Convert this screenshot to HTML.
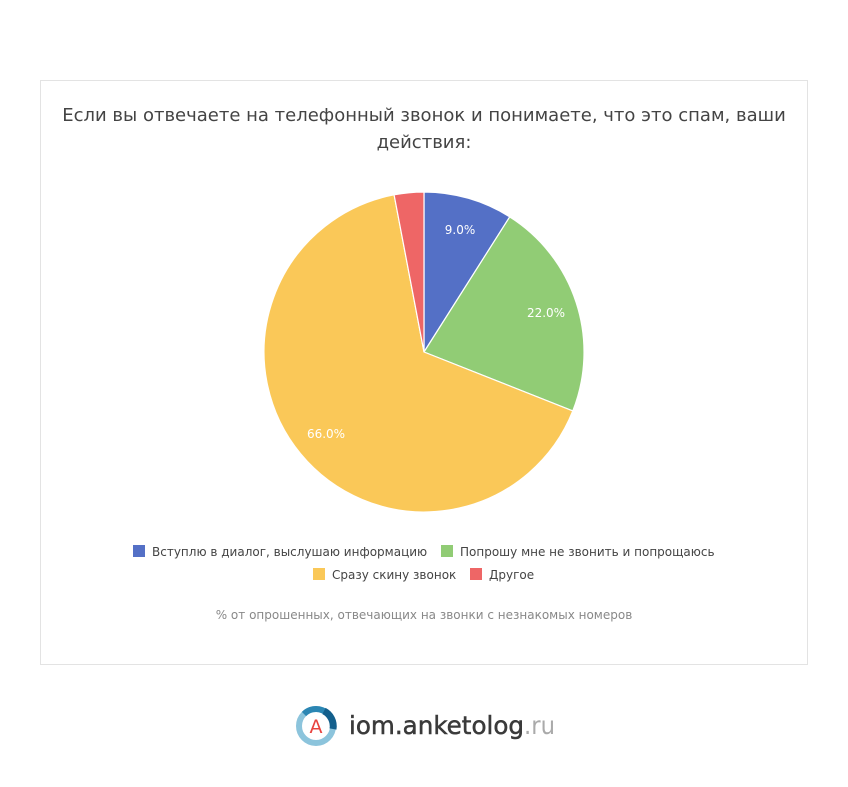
<!DOCTYPE html>
<html><head><meta charset="utf-8"><style>
body{margin:0;width:848px;height:787px;background:#fff;font-family:"DejaVu Sans","Liberation Sans",sans-serif;position:relative;overflow:hidden}
.card{position:absolute;left:40px;top:80px;width:766px;height:583px;border:1px solid #e3e3e3;background:#fff}
.title{position:absolute;left:40px;top:102px;width:768px;text-align:center;font-size:18px;line-height:27px;color:#444}
.leg{position:absolute;font-size:12px;color:#444;white-space:nowrap}
.sw{display:inline-block;width:12px;height:12px;vertical-align:-1px;margin-right:7px}
.note{position:absolute;left:40px;top:608px;width:768px;text-align:center;font-size:12px;color:#888}
</style></head><body>
<div class="card"></div>
<div class="title">Если вы отвечаете на телефонный звонок и понимаете, что это спам, ваши<br>действия:</div>
<svg width="848" height="787" style="position:absolute;left:0;top:0">
<g stroke="#fff" stroke-width="1.2">
<path d="M424,352 L424,192 A160,160 0 0 1 509.7,216.9 Z" fill="#5470c6"/>
<path d="M424,352 L509.7,216.9 A160,160 0 0 1 572.8,410.9 Z" fill="#91cc75"/>
<path d="M424,352 L572.8,410.9 A160,160 0 1 1 394.1,194.8 Z" fill="#fac858"/>
<path d="M424,352 L394.1,194.8 A160,160 0 0 1 424,192 Z" fill="#ee6666"/>
</g>
<g fill="#fff" font-size="12" text-anchor="middle" font-family="DejaVu Sans,sans-serif">
<text x="460" y="234">9.0%</text>
<text x="546" y="317">22.0%</text>
<text x="326" y="438">66.0%</text>
</g>
<g transform="translate(316,726)">
<circle r="17" fill="none" stroke="#8cc4dc" stroke-width="6"/>
<path d="M-12,-12 A17,17 0 0 1 17,0" fill="none" stroke="#2b86b3" stroke-width="6"/>
<path d="M8,-15 A17,17 0 0 1 17,3" fill="none" stroke="#135f8c" stroke-width="7"/>
<circle r="13" fill="#fff"/>
<text x="0" y="7" text-anchor="middle" font-size="19" fill="#e8423e" font-family="DejaVu Sans,sans-serif">A</text>
</g>
<text x="349" y="734" font-size="25" fill="#3a3a3a" stroke="#3a3a3a" stroke-width="0.5" font-family="DejaVu Sans,sans-serif" textLength="175" lengthAdjust="spacingAndGlyphs">iom.anketolog</text>
<text x="524" y="734" font-size="25" fill="#aaa" font-family="DejaVu Sans,sans-serif" textLength="31" lengthAdjust="spacingAndGlyphs">.ru</text>
</svg>
<div class="leg" style="left:133px;top:545px"><span class="sw" style="background:#5470c6"></span>Вступлю в диалог, выслушаю информацию</div>
<div class="leg" style="left:441px;top:545px"><span class="sw" style="background:#91cc75"></span>Попрошу мне не звонить и попрощаюсь</div>
<div class="leg" style="left:313px;top:568px"><span class="sw" style="background:#fac858"></span>Сразу скину звонок</div>
<div class="leg" style="left:470px;top:568px"><span class="sw" style="background:#ee6666"></span>Другое</div>
<div class="note">% от опрошенных, отвечающих на звонки с незнакомых номеров</div>
</body></html>
